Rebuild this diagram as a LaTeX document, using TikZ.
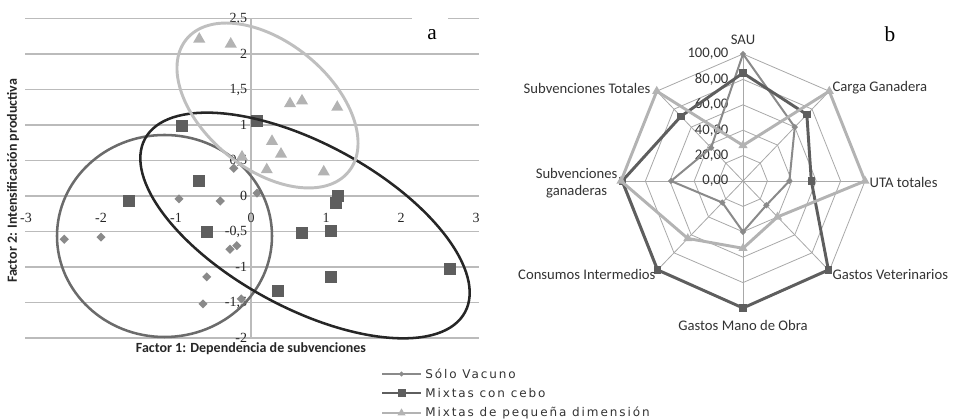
\documentclass[tikz,border=0pt]{standalone}
\usepackage{fontspec}
\setmainfont{Carlito}
\newfontfamily\numfont{Liberation Serif}
\newfontfamily\legfont[LetterSpace=16]{DejaVu Sans}
\usetikzlibrary{shapes.geometric}
\definecolor{vacuno}{HTML}{8A8A8A}
\definecolor{cebo}{HTML}{5E5E5E}
\definecolor{peq}{HTML}{B3B3B3}
\definecolor{rejilla}{HTML}{BBBBBB}
\definecolor{radrej}{HTML}{A8A8A8}

\begin{document}
\begin{tikzpicture}[x=0.75pt,y=0.75pt,
  grid/.style={rejilla,line width=0.9pt},
  radgrid/.style={radrej,line width=0.6pt},
  sqmark/.style={rectangle,fill=cebo,inner sep=0,minimum size=9pt},
  diamark/.style={diamond,fill=vacuno,inner sep=0,minimum width=7pt,minimum height=7pt},
  trimark/.style={regular polygon,regular polygon sides=3,fill=peq,inner sep=0,minimum size=10.5pt},
  ticklab/.style={font=\numfont\fontsize{10.5}{12}\selectfont,text=black!85,inner sep=1pt},
  radlab/.style={font=\fontsize{11}{13}\selectfont,text=black!80,inner sep=1pt},
  axtitle/.style={font=\bfseries\fontsize{10.5}{12}\selectfont,text=black!85},
  legtext/.style={font=\legfont\fontsize{9}{10}\selectfont,text=black!80,anchor=west,inner sep=3pt},
  vacline/.style={vacuno,line width=1.5pt,line join=round},
  cebline/.style={cebo,line width=2.2pt,line join=round},
  peqline/.style={peq,line width=2.2pt,line join=round}]
\useasboundingbox (0,0) rectangle (953,420);

% a: factor scores
\begin{scope}[shift={(251,224)},x=56.25pt,y=53.25pt]
\foreach \g in {-2,-1.5,...,2}
  \draw[grid] (-3.013,\g) -- (3.04,\g);
\draw[grid] (-3.013,2.5) -- (2.147,2.5) (2.627,2.5) -- (3.04,2.5);
\draw[grid] (0,-2) -- (0,2.5);
\foreach \g/\t [count=\i] in {2.5/{2,5},2/2,1.5/{1,5},1/1,0.5/{0,5},0/0,-0.5/{-0,5},-1/-1,-1.5/{-1,5},-2/-2}
  \node[ticklab,anchor=east] (ylab\i) at (-0.03,\g) {\t};
\foreach \g [count=\i] in {-3,-2,-1,0,1,2,3}
  \node[ticklab] (xlab\i) at (\g,-0.31) {\g};
\foreach \px/\py [count=\i] in {-0.96/-0.04,-0.41/-0.07,-0.23/0.39,0.08/0.04,-2.49/-0.61,-2.0/-0.58,-0.28/-0.75,-0.19/-0.70,-0.59/-1.14,-0.64/-1.52,-0.13/-1.45}
  \node[diamark] (d\i) at (\px,\py) {};
\foreach \px/\py [count=\i] in {-0.92/0.99,0.08/1.06,-0.69/0.21,-1.63/-0.07,1.16/0.0,1.13/-0.1,-0.59/-0.51,0.68/-0.52,1.07/-0.49,2.65/-1.03,1.07/-1.14,0.36/-1.34}
  \node[sqmark] (s\i) at (\px,\py) {};
\foreach \px/\py [count=\i] in {-0.69/2.21,-0.27/2.14,0.52/1.30,0.68/1.34,1.15/1.25,0.28/0.77,0.40/0.59,-0.12/0.55,0.21/0.37,0.97/0.34}
  \node[trimark] (t\i) at (\px,\py) {};
\end{scope}
\draw[color=black!58,line width=1.9pt] (164.5,184) ellipse [x radius=107.5,y radius=101];
\draw[color=black!85,line width=1.9pt,rotate around={-28.5:(305,194.5)}] (305,194.5) ellipse [x radius=182,y radius=82];
\draw[color=black!25,line width=2.2pt,rotate around={-39.2:(267.5,314.5)}] (267.5,314.5) ellipse [x radius=104.7,y radius=63.5];
\node[axtitle] (xtit) at (251,71) {Factor 1: Dependencia de subvenciones};
\node[axtitle,rotate=90] (ytit) at (13,239) {Factor 2: Intensificación productiva};
\node[font=\numfont\fontsize{16}{18}\selectfont] (pa) at (432,385) {a};

% b: radar
\begin{scope}[shift={(743,239)},x=0.915pt,y=0.9525pt]
\foreach \r in {20,40,...,100}
  \draw[radgrid] (90:\r) \foreach \a in {45,0,...,-225} {-- (\a:\r)} -- cycle;
\foreach \a in {90,45,...,-225}
  \draw[radgrid] (0,0) -- (\a:100);
\foreach \v [count=\i] in {0,20,...,100}
  \node[radlab,anchor=east] (rlab\i) at (-10.7,\v) {\v,00};
\foreach \v [count=\i] in {100,60,38,27,40,24,59,37}
  \coordinate (v\i) at ({90-45*(\i-1)}:\v);
\foreach \v [count=\i] in {85,74,56,99,100,99,99,72}
  \coordinate (c\i) at ({90-45*(\i-1)}:\v);
\foreach \v [count=\i] in {28,100,100,40,53,64,100,100}
  \coordinate (p\i) at ({90-45*(\i-1)}:\v);
\draw[vacline] (v1) -- (v2) -- (v3) -- (v4) -- (v5) -- (v6) -- (v7) -- (v8) -- cycle;
\foreach \i in {1,...,8}
  \node[diamark,minimum width=5pt,minimum height=5pt] (vm\i) at (v\i) {};
\draw[cebline] (c1) -- (c2) -- (c3) -- (c4) -- (c5) -- (c6) -- (c7) -- (c8) -- cycle;
\foreach \i in {1,...,8}
  \node[sqmark,minimum size=5.5pt] (cm\i) at (c\i) {};
\draw[peqline] (p1) -- (p2) -- (p3) -- (p4) -- (p5) -- (p6) -- (p7) -- (p8) -- cycle;
\foreach \i in {1,...,8}
  \node[trimark,minimum size=8pt] (pm\i) at (p\i) {};
\end{scope}
\node[radlab] (sau) at (743,380) {SAU};
\node[radlab,anchor=west] (carga) at (831,332) {Carga Ganadera};
\node[radlab,anchor=west] (uta) at (868,238) {UTA totales};
\node[radlab,anchor=west] (gvet) at (831,145) {Gastos Veterinarios};
\node[radlab] (gmo) at (743,95) {Gastos Mano de Obra};
\node[radlab,anchor=east] (cint) at (657,146) {Consumos Intermedios};
\node[radlab,anchor=east,align=center] (sgan) at (619,237) {Subvenciones\\ganaderas};
\node[radlab,anchor=east] (stot) at (652,332) {Subvenciones Totales};
\node[font=\numfont\fontsize{16}{18}\selectfont] (pb) at (890,386) {b};

% legend
\node[legtext] (leg1) at (421,46) {Sólo Vacuno};
\node[legtext] (leg2) at (421,27) {Mixtas con cebo};
\node[legtext] (leg3) at (421,7) {Mixtas de pequeña dimensión};
\coordinate (k1) at (382,46);
\coordinate (k2) at (382,27);
\coordinate (k3) at (382,7);
\draw[vacline] (k1) -- (leg1.west) node[midway,diamark,minimum width=4.5pt,minimum height=4.5pt] (lm1) {};
\draw[cebline] (k2) -- (leg2.west) node[midway,sqmark,minimum size=6pt] (lm2) {};
\draw[peqline,line width=1.6pt] (k3) -- (leg3.west) node[midway,trimark,minimum size=7pt] (lm3) {};
\end{tikzpicture}
\end{document}
